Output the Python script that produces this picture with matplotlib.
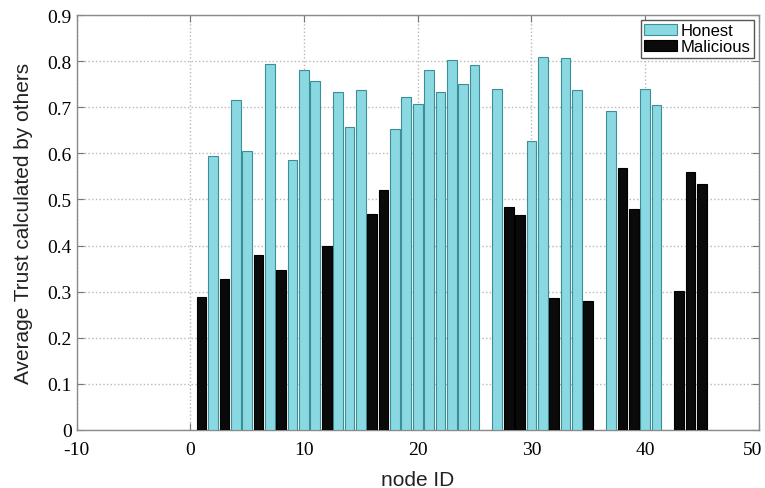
import matplotlib
matplotlib.use("Agg")
import matplotlib.pyplot as plt

# node IDs and average trust values
honest_ids = [2, 4, 5, 7, 9, 10, 11, 13, 14, 15, 18, 19, 20, 21, 22, 23, 24, 25,
              27, 30, 31, 33, 34, 37, 40, 41]
honest_trust = [0.595, 0.715, 0.605, 0.795, 0.585, 0.781, 0.757, 0.734, 0.657, 0.738,
                0.652, 0.722, 0.708, 0.781, 0.733, 0.803, 0.751, 0.791,
                0.739, 0.627, 0.810, 0.807, 0.737, 0.692, 0.739, 0.704]

malicious_ids = [1, 3, 6, 8, 12, 16, 17, 28, 29, 32, 35, 38, 39, 43, 44, 45]
malicious_trust = [0.288, 0.328, 0.380, 0.346, 0.399, 0.469, 0.521, 0.484, 0.466,
                   0.285, 0.279, 0.569, 0.479, 0.302, 0.560, 0.534]

xticks = [-10, 0, 10, 20, 30, 40, 50]
yticks = [0, 0.1, 0.2, 0.3, 0.4, 0.5, 0.6, 0.7, 0.8, 0.9]

fig = plt.figure(figsize=(7.65, 4.89), dpi=100)
ax = fig.add_axes([0.100, 0.119, 0.892, 0.848])

ax.bar(honest_ids, honest_trust, width=0.85, color="#8ad8e2",
       edgecolor="#3c8f96", linewidth=0.8, label="Honest", zorder=3)
ax.bar(malicious_ids, malicious_trust, width=0.85, color="#0a0a0a",
       edgecolor="#000000", linewidth=0.8, label="Malicious", zorder=3)

ax.set_xlim(-10, 50)
ax.set_ylim(0, 0.9)
ax.set_xticks(xticks)
ax.set_yticks(yticks)
# last x label is drawn separately, nudged left so it stays inside the image
ax.set_xticklabels([str(t) for t in xticks[:-1]] + [""], family="Liberation Serif", fontsize=14)
ax.set_yticklabels(["0"] + ["%.1f" % t for t in yticks[1:]], family="Liberation Serif", fontsize=14)
ax.annotate(str(xticks[-1]), xy=(xticks[-1], 0), xycoords=("data", "axes fraction"),
            xytext=(-4.5, -8), textcoords="offset points", ha="center", va="top",
            family="Liberation Serif", fontsize=14)

ax.grid(True, linestyle=":", color="#b8b8b8", linewidth=1.0, zorder=0)
ax.tick_params(direction="in", top=True, right=True, length=5, color="#777777")
ax.tick_params(axis="x", pad=8)
for s in ax.spines.values():
    s.set_color("#8a8a8a")
    s.set_linewidth(1.0)

ax.set_xlabel("node ID", family="Liberation Sans", fontsize=15, color="#222222", labelpad=9)
ax.set_ylabel("Average Trust calculated by others", family="Liberation Sans", fontsize=15,
              color="#222222", labelpad=10)

leg = ax.legend(loc="upper right", prop={"family": "Liberation Sans", "size": 12},
                fancybox=False, framealpha=1, edgecolor="#555555",
                handlelength=2.0, handleheight=0.7, handletextpad=0.2,
                borderpad=0.2, labelspacing=0.05, borderaxespad=0.3)
leg.get_frame().set_linewidth(1.0)

fig.savefig("out.png", dpi=100)
